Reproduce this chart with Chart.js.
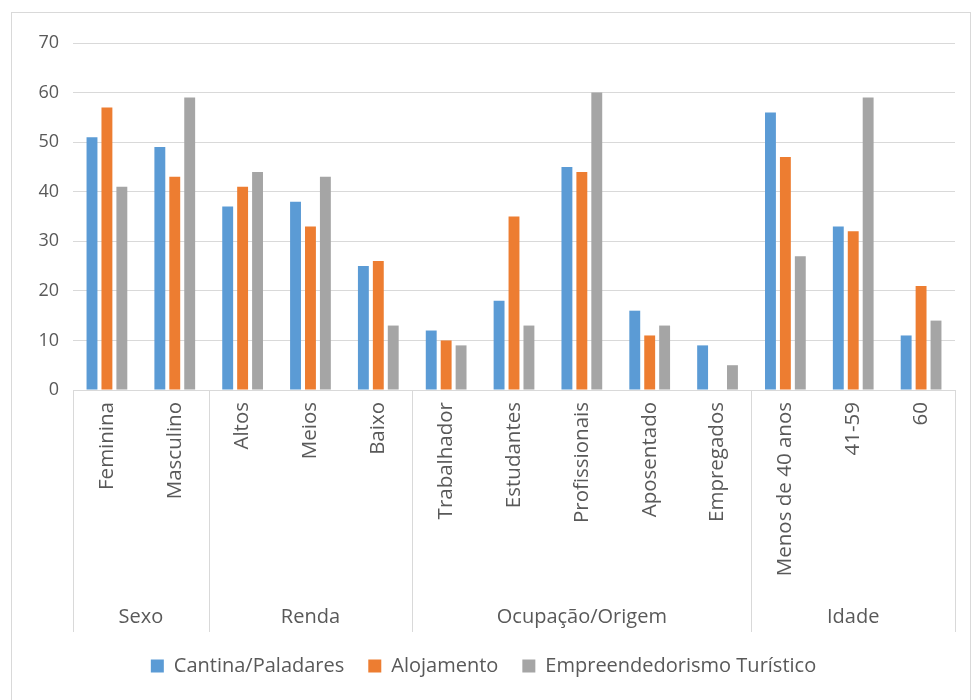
<!DOCTYPE html>
<html>
<head>
<meta charset="utf-8">
<script src="https://cdn.jsdelivr.net/npm/chart.js@4.4.1/dist/chart.umd.min.js"></script>
<style>
  html,body{margin:0;padding:0;background:#fff;}
  #wrap{position:relative;width:971px;height:700px;}
</style>
</head>
<body>
<div id="wrap"><canvas id="c" width="971" height="700"></canvas></div>
<script>
// categorias e valores
const categories = ['Feminina','Masculino','Altos','Meios','Baixo','Trabalhador','Estudantes','Profissionais','Aposentado','Empregados','Menos de 40 anos','41-59','60'];
const groupLabels = ['Sexo','Renda','Ocupação/Origem','Idade'];
const groupSizes = [2,3,5,3];
const cantina = [51,49,37,38,25,12,18,45,16,9,56,33,11];
const alojamento = [57,43,41,33,26,10,35,44,11,null,47,32,21];
const empreend = [41,59,44,43,13,9,13,60,13,5,27,59,14];
const yTicks = [0,10,20,30,40,50,60,70];

const GRID='#d9d9d9', TXT='#595959', FONT='"Open Sans"';

// eixo multinível: divisórias + rótulos de grupo
const groupAxis = {
  id:'groupAxis',
  beforeDraw(chart){
    const ctx=chart.ctx; ctx.save();
    ctx.strokeStyle=GRID; ctx.lineWidth=1;
    ctx.strokeRect(11.5,12.5,chart.width-12,chart.height-12);
    ctx.restore();
  },
  afterDraw(chart){
    const x=chart.scales.x, ctx=chart.ctx;
    ctx.save();
    ctx.strokeStyle=GRID; ctx.lineWidth=1;
    let idx=0; const bounds=[x.left];
    groupSizes.forEach(n=>{ idx+=n; bounds.push(idx>=categories.length ? x.right : (x.getPixelForValue(idx-1)+x.getPixelForValue(idx))/2); });
    bounds.forEach(b=>{ const bx=Math.round(b)+0.5; ctx.beginPath(); ctx.moveTo(bx,x.top); ctx.lineTo(bx,x.bottom); ctx.stroke(); });
    ctx.fillStyle=TXT; ctx.font='20px '+FONT; ctx.textAlign='center'; ctx.textBaseline='middle';
    groupLabels.forEach((g,i)=>{ ctx.fillText(g,(bounds[i]+bounds[i+1])/2,x.bottom-15); });
    ctx.restore();
  }
};

new Chart(document.getElementById('c').getContext('2d'),{
  type:'bar',
  data:{ labels:categories, datasets:[
    { label:'Cantina/Paladares', data:cantina, backgroundColor:'#5b9bd5' },
    { label:'Alojamento', data:alojamento, backgroundColor:'#ed7d31' },
    { label:'Empreendedorismo Turístico', data:empreend, backgroundColor:'#a5a5a5' }
  ]},
  options:{
    responsive:false, animation:false,
    layout:{ padding:{ left:12, right:16, top:43, bottom:14 } },
    datasets:{ bar:{ categoryPercentage:0.66, barPercentage:0.73 } },
    plugins:{
      tooltip:{enabled:false},
      legend:{ position:'bottom', labels:{ color:TXT, font:{family:FONT,size:20}, boxWidth:13, boxHeight:13, padding:24 } }
    },
    scales:{
      x:{
        grid:{display:false},
        border:{display:true,color:GRID},
        ticks:{ color:TXT, font:{family:FONT,size:20.5}, minRotation:90, maxRotation:90, autoSkip:false, padding:4 },
        afterFit(s){ s.height=242; }
      },
      y:{
        min:0, max:70,
        afterBuildTicks(s){ s.ticks=yTicks.map(v=>({value:v})); },
        grid:{ color:GRID, lineWidth:1, drawTicks:false },
        border:{display:false},
        ticks:{ color:TXT, font:{family:FONT,size:18}, padding:14 },
        afterFit(s){ s.width=61; }
      }
    }
  },
  plugins:[groupAxis]
});
</script>
</body>
</html>
